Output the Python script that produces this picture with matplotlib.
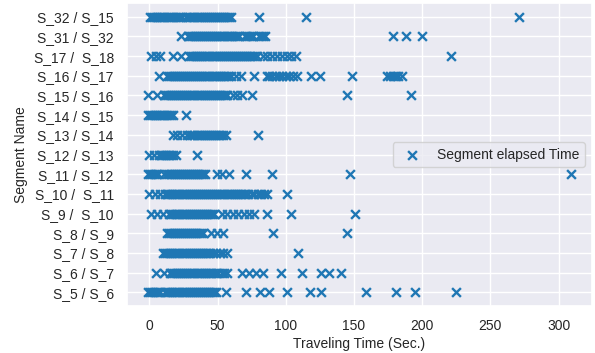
import matplotlib
matplotlib.use("Agg")
import matplotlib.pyplot as plt
import seaborn as sns

# Segment names, bottom to top
segments = [
    "S_5 / S_6", "S_6 / S_7", "S_7 / S_8", "S_8 / S_9", "S_9 /  S_10",
    "S_10 /  S_11", "S_11 / S_12", "S_12 / S_13", "S_13 / S_14",
    "S_14 / S_15", "S_15 / S_16", "S_16 / S_17", "S_17 /  S_18",
    "S_31 / S_32", "S_32 / S_15",
]

# Elapsed travel times (seconds) observed on each segment
t_s5_s6 = [-1.0, 0.5, 2.0, 3.5, 5.0, 6.5, 8.0, 11.5, 13.0, 14.5, 16.0, 17.5,
           19.0, 20.5, 22.0, 23.5, 25.0, 26.5, 28.0, 29.5, 31.0, 32.5, 34.0,
           35.5, 37.0, 38.5, 40.0, 41.5, 43.0, 44.5, 46.0, 47.5, 48.5,
           56.0, 70.5, 81.0, 88.0, 101.0, 118.0, 125.5, 158.5, 180.5, 194.5,
           224.5]
t_s6_s7 = [4.6, 11.0, 15.0, 16.5, 18.0, 19.5, 21.0, 22.5, 24.0, 25.5, 27.0,
           28.5, 30.0, 31.5, 33.0, 34.5, 36.0, 37.5, 39.0, 40.5, 42.0, 43.5,
           45.0, 46.5, 48.5, 50.5, 53.0, 55.0, 57.0, 67.5, 73.0, 78.0, 83.5,
           96.5, 111.5, 125.5, 131.5, 140.5]
t_s7_s8 = [10.0, 11.5, 13.0, 14.5, 16.0, 17.5, 19.0, 20.5, 22.0, 23.5, 25.0,
           26.5, 28.0, 29.5, 31.0, 32.5, 34.0, 35.5, 37.0, 38.5, 40.0, 41.5,
           43.0, 44.5, 46.5, 49.0, 51.5, 54.0, 56.5, 109.0]
t_s8_s9 = [12.5, 14.0, 15.5, 17.0, 18.5, 20.0, 21.5, 23.0, 24.5, 26.0, 27.5,
           29.0, 30.5, 32.0, 33.5, 35.0, 36.5, 38.0, 39.0, 45.0, 49.5, 54.0,
           90.5, 145.0]
t_s9_s10 = [1.0, 5.5, 10.0, 14.5, 16.0, 17.5, 19.0, 20.5, 22.0, 23.5, 25.0,
            26.5, 28.0, 29.5, 31.0, 32.5, 34.0, 35.5, 37.0, 38.5, 40.0, 41.5,
            43.0, 44.5, 46.0, 47.5, 53.0, 57.0, 61.0, 65.0, 69.0, 73.0, 76.5,
            86.5, 103.5, 151.0]
t_s10_s11 = [0.0, 4.0, 8.0, 11.5, 13.0, 14.5, 16.0, 17.5, 19.0, 20.5, 22.0,
             23.5, 25.0, 26.5, 28.0, 29.5, 31.0, 32.5, 34.0, 35.5, 37.0, 38.5,
             40.0, 41.5, 43.0, 44.5, 46.0, 47.5, 49.0, 50.5, 52.0, 53.5, 55.0,
             56.5, 58.0, 59.5, 61.0, 62.5, 64.0, 65.5, 67.0, 68.5, 70.0, 72.5,
             75.0, 77.0, 79.5, 82.0, 84.0, 86.0, 100.5]
t_s11_s12 = [-1.0, 0.5, 2.0, 3.5, 5.0, 6.5, 11.0, 12.5, 14.0, 15.5, 17.0,
             18.5, 20.0, 21.5, 23.0, 24.5, 26.0, 27.5, 29.0, 30.5, 32.0, 33.5,
             35.0, 36.5, 38.0, 39.5, 41.0, 49.5, 53.5, 58.0, 71.0, 89.5, 147.0,
             309.0]
t_s12_s13 = [0.0, 3.5, 7.0, 8.5, 10.0, 11.5, 13.0, 14.5, 16.0, 17.5, 19.5,
             34.5]
t_s13_s14 = [17.0, 20.5, 24.0, 27.5, 30.0, 31.5, 33.0, 34.5, 36.0, 37.5, 39.0,
             40.5, 42.0, 43.5, 45.0, 46.5, 48.0, 49.5, 51.0, 52.5, 54.0, 56.0,
             79.5]
t_s14_s15 = [-1.0, 0.5, 2.0, 3.5, 5.0, 6.5, 8.0, 9.5, 11.0, 12.5, 14.0, 15.5,
             17.0, 26.5]
t_s15_s16 = [-1.0, 5.5, 10.5, 12.0, 13.5, 15.0, 16.5, 18.0, 19.5, 21.0, 22.5,
             24.0, 25.5, 27.0, 28.5, 30.0, 31.5, 33.0, 34.5, 36.0, 37.5, 39.0,
             40.5, 42.0, 43.5, 45.0, 46.5, 48.0, 49.5, 51.0, 52.5, 54.0, 55.5,
             57.0, 61.0, 64.5, 68.0, 75.5, 145.0, 191.5]
t_s16_s17 = [7.0, 12.5, 14.0, 15.5, 17.0, 18.5, 20.0, 21.5, 23.0, 24.5, 26.0,
             27.5, 29.0, 30.5, 32.0, 33.5, 35.0, 36.5, 38.0, 39.5, 41.0, 42.5,
             44.0, 45.5, 47.0, 48.5, 50.0, 51.5, 53.0, 54.5, 56.0, 57.5, 59.5,
             63.5, 67.0, 77.0, 86.0, 88.0, 90.0, 92.5, 95.0, 97.5, 100.0,
             102.5, 105.0, 108.0, 118.5, 125.0, 148.5, 174.0, 176.5, 178.5,
             180.5, 182.5, 185.0]
t_s17_s18 = [1.0, 4.5, 8.0, 17.0, 23.0, 29.0, 30.5, 32.0, 33.5, 35.0, 36.5,
             38.0, 39.5, 41.0, 42.5, 44.0, 45.5, 47.0, 48.5, 50.0, 51.5, 53.0,
             54.5, 56.0, 57.5, 59.0, 60.5, 62.0, 63.5, 65.0, 66.5, 68.0, 69.5,
             71.0, 72.5, 74.0, 75.5, 77.0, 79.0, 83.0, 86.5, 90.0, 93.5, 97.0,
             100.5, 104.0, 107.5, 221.0]
t_s31_s32 = [23.0, 28.0, 29.5, 31.0, 32.5, 34.0, 35.5, 37.0, 38.5, 40.0, 41.5,
             43.0, 44.5, 46.0, 47.5, 49.0, 50.5, 52.0, 53.5, 55.0, 56.5, 58.0,
             59.5, 61.0, 62.5, 64.0, 65.5, 70.0, 71.5, 73.0, 74.5, 76.0, 80.5,
             82.0, 83.5, 85.0, 178.5, 188.0, 200.0]
t_s32_s15 = [0.5, 2.0, 3.5, 5.0, 6.5, 8.0, 9.5, 11.0, 12.5, 14.0, 15.5, 17.0,
             19.5, 21.0, 22.5, 24.0, 27.0, 28.5, 30.0, 31.5, 33.0, 34.5, 36.0,
             37.5, 39.0, 40.5, 42.0, 43.5, 45.0, 46.5, 48.0, 49.5, 51.0, 52.5,
             54.0, 55.5, 57.0, 58.5, 60.0, 80.0, 115.0, 271.0]

times = [t_s5_s6, t_s6_s7, t_s7_s8, t_s8_s9, t_s9_s10, t_s10_s11, t_s11_s12,
         t_s12_s13, t_s13_s14, t_s14_s15, t_s15_s16, t_s16_s17, t_s17_s18,
         t_s31_s32, t_s32_s15]

sns.set_theme(style="darkgrid")
plt.rcParams["font.family"] = ["Liberation Sans", "DejaVu Sans"]
plt.rcParams["xtick.labelsize"] = 10
plt.rcParams["ytick.labelsize"] = 10
plt.rcParams["axes.labelsize"] = 10
plt.rcParams["legend.fontsize"] = 10

xs, ys = [], []
for name, vals in zip(segments, times):
    xs.extend(vals)
    ys.extend([name] * len(vals))

fig = plt.figure(figsize=(5.95, 3.53), dpi=100)
ax = fig.add_axes([0.2134, 0.133, 0.7816, 0.8585])
ax.scatter(xs, ys, marker="x", s=40, linewidths=1.7, color="#1f77b4",
           label="Segment elapsed Time")
ax.set_xticks([0, 50, 100, 150, 200, 250, 300])
ax.set_xlabel("Traveling Time (Sec.)", labelpad=3)
ax.set_ylabel("Segment Name")
ax.legend(loc="center right")

fig.savefig("out.png", dpi=100)
